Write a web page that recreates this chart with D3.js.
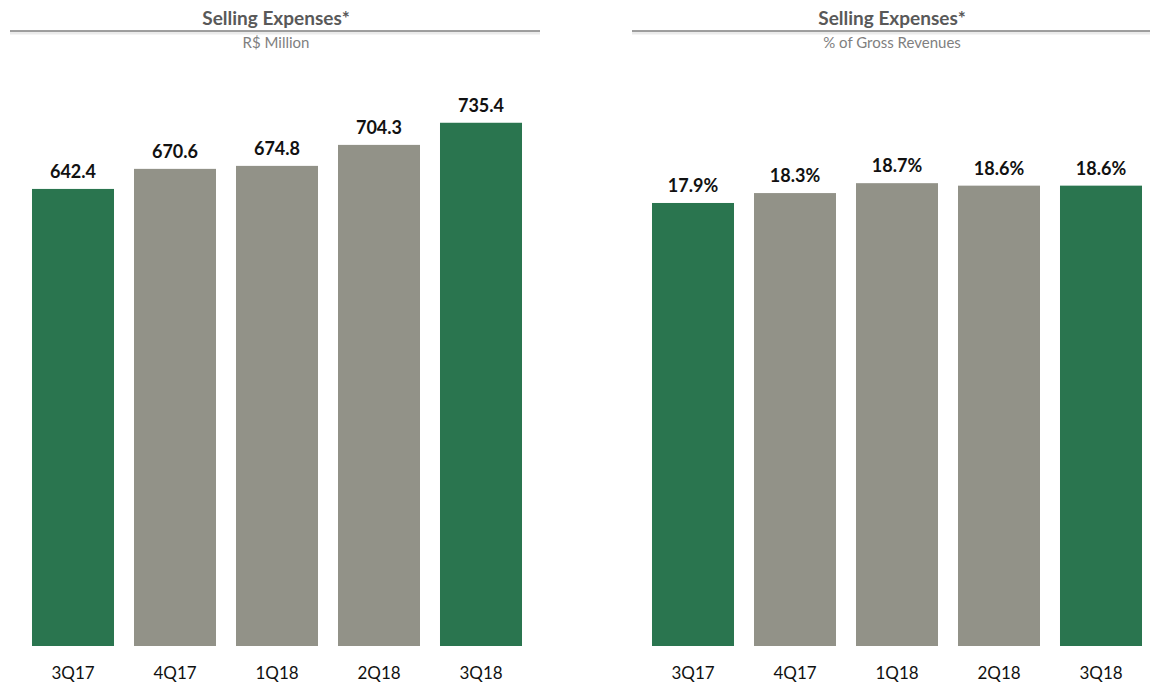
<!DOCTYPE html>
<html>
<head>
<meta charset="utf-8">
<script src="https://cdn.jsdelivr.net/npm/d3@7"></script>
<style>
  html, body { margin: 0; padding: 0; background: #ffffff; }
  svg { display: block; font-family: Lato, "Open Sans", sans-serif; }
</style>
</head>
<body>
<svg id="chart" width="1150" height="682"></svg>
<script>
// Quarters shown in both panels
const quarters = ["3Q17", "4Q17", "1Q18", "2Q18", "3Q18"];
// Selling expenses, R$ million
const expensesMillion = [642.4, 670.6, 674.8, 704.3, 735.4];
// Selling expenses as % of gross revenues
const expensesPct = [17.9, 18.3, 18.7, 18.6, 18.6];
// Quarters highlighted in green (same quarter, year over year)
const highlighted = ["3Q17", "3Q18"];

const GREEN = "#2a754f";
const GREY = "#929288";

const svg = d3.select("#chart");

const panels = [
  {
    title: "Selling Expenses*", subtitle: "R$ Million",
    values: expensesMillion, fmt: d => d.toFixed(1),
    domain: [0, 800], rangeTop: 646 - 800 * 0.7115,
    plotX: [22, 532], ruleX: [10, 540], titleX: 276
  },
  {
    title: "Selling Expenses*", subtitle: "% of Gross Revenues",
    values: expensesPct, fmt: d => d.toFixed(1) + "%",
    domain: [0, 20], rangeTop: 646 - 20 * 24.75,
    plotX: [642, 1152], ruleX: [632, 1150], titleX: 892
  }
];

const baseY = 646;

panels.forEach(p => {
  const g = svg.append("g");

  // Header: title, rule with a soft shadow, unit subtitle
  g.append("text")
    .attr("x", p.titleX).attr("y", 25)
    .attr("text-anchor", "middle")
    .attr("font-size", 19).attr("font-weight", 700)
    .attr("fill", "#595959")
    .text(p.title);

  g.append("line")
    .attr("x1", p.ruleX[0]).attr("x2", p.ruleX[1])
    .attr("y1", 33).attr("y2", 33)
    .attr("stroke", "#000").attr("stroke-opacity", 0.08).attr("stroke-width", 3);
  g.append("line")
    .attr("x1", p.ruleX[0]).attr("x2", p.ruleX[1])
    .attr("y1", 31).attr("y2", 31)
    .attr("stroke", "#7f7f7f").attr("stroke-width", 1.6);

  g.append("text")
    .attr("x", p.titleX).attr("y", 48)
    .attr("text-anchor", "middle")
    .attr("font-size", 15).attr("fill", "#7f7f7f")
    .text(p.subtitle);

  const x = d3.scaleBand().domain(quarters).range(p.plotX).paddingInner(0.196).paddingOuter(0.098);
  const y = d3.scaleLinear().domain(p.domain).range([baseY, p.rangeTop]);

  const data = quarters.map((q, i) => ({ q, v: p.values[i] }));

  g.selectAll("rect.bar").data(data).join("rect")
    .attr("class", "bar")
    .attr("x", d => x(d.q))
    .attr("width", x.bandwidth())
    .attr("y", d => y(d.v))
    .attr("height", d => y(0) - y(d.v))
    .attr("fill", d => highlighted.includes(d.q) ? GREEN : GREY);

  g.selectAll("text.val").data(data).join("text")
    .attr("class", "val")
    .attr("x", d => x(d.q) + x.bandwidth() / 2)
    .attr("y", d => y(d.v) - 11)
    .attr("text-anchor", "middle")
    .attr("font-size", 18).attr("font-weight", 700)
    .attr("fill", "#111")
    .text(d => p.fmt(d.v));

  const axis = d3.axisBottom(x).tickSize(0).tickPadding(0);
  const ax = g.append("g").attr("transform", `translate(0,${baseY + 33})`).call(axis);
  ax.select(".domain").remove();
  ax.selectAll("text")
    .attr("dy", 0)
    .attr("font-size", 17)
    .attr("font-family", "Lato, 'Open Sans', sans-serif")
    .attr("fill", "#111");
});
</script>
</body>
</html>
